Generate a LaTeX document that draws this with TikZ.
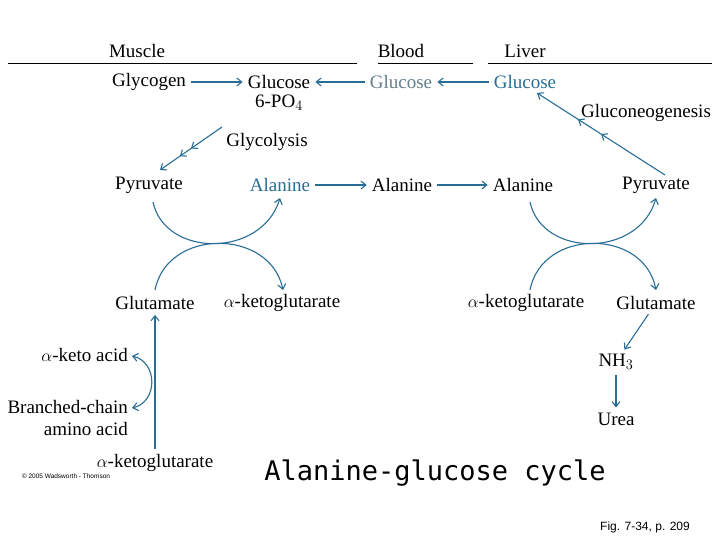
\documentclass[tikz,border=0pt]{standalone}
\usepackage{fontspec}
\setmainfont{Liberation Serif}
\newfontfamily\lsans{Liberation Sans}
\newfontfamily\tfont{DejaVu Sans Mono}
\usetikzlibrary{arrows.meta,decorations.markings}
\definecolor{bl}{RGB}{40,110,150}
\definecolor{gr}{RGB}{100,125,140}
\tikzset{lbl/.style={font=\fontsize{19}{22}\selectfont,inner sep=1pt},
 ar/.style={draw=bl,line width=1.1pt,-{Straight Barb[length=5pt,width=8pt]},shorten >=4pt,shorten <=4pt},
 midar/.style={postaction={decorate},decoration={markings,
   mark=at position 0.5 with {\arrow[bl]{Straight Barb[length=5pt,width=8pt]}},
   mark=at position 0.68 with {\arrow[bl]{Straight Barb[length=5pt,width=8pt]}}}}}
\begin{document}
\begin{tikzpicture}[x=1pt,y=-1pt]
\useasboundingbox[fill=white] (0,0) rectangle (720,540);
\node[lbl] (hm) at (137,51) {Muscle};
\node[lbl] (hb) at (401,51) {Blood};
\node[lbl] (hl) at (525,51) {Liver};
\draw[line width=0.8pt] (8,63) -- (357,63) (378,63) -- (473,63) (488,63) -- (712,63);
\node[lbl] (glycogen) at (149,82) {Glycogen};
\node[lbl] (g6p) at (279,82) {Glucose};
\node[lbl] (g6pb) at (279,103) {6-PO$_4$};
\node[lbl,text=gr] (gb) at (401,82) {Glucose};
\node[lbl,text=bl] (gl) at (525,82) {Glucose};
\draw[ar] (glycogen) -- (g6p);
\draw[ar] (gb) -- (g6p);
\draw[ar] (gl) -- (gb);
\node[lbl] (glyc) at (267,142) {Glycolysis};
\node[lbl] (glng) at (646,113) {Gluconeogenesis};
\node[lbl] (pyr1) at (149,185) {Pyruvate};
\node[lbl,text=bl] (ala1) at (280,185) {Alanine};
\node[lbl] (ala2) at (402,185) {Alanine};
\node[lbl] (ala3) at (523,185) {Alanine};
\node[lbl] (pyr2) at (656,185) {Pyruvate};
\coordinate (gs) at (222,127);
\coordinate (ge) at (160,170);
\draw[ar,shorten <=0pt,shorten >=0pt,midar] (gs) -- (ge);
\coordinate (ps) at (665,175);
\coordinate (pe) at (537,93);
\draw[ar,shorten <=0pt,shorten >=0pt,midar] (ps) -- (pe);
\draw[ar] (ala1) -- (ala2);
\draw[ar] (ala2) -- (ala3);
\node[lbl] (glu1) at (155,303) {Glutamate};
\node[lbl] (akg1) at (282,303) {$\alpha$-ketoglutarate};
\node[lbl] (akg2) at (526,303) {$\alpha$-ketoglutarate};
\node[lbl] (glu2) at (656,303) {Glutamate};
\tikzset{arc/.style={ar,shorten <=0pt,shorten >=0pt}}
\draw[arc] (153,202) .. controls (165,258) and (262,258) .. (280,198);
\draw[arc] (155,290) .. controls (167,228) and (270,228) .. (283,290);
\draw[arc] (530,202) .. controls (542,258) and (639,258) .. (656,198);
\draw[arc] (530,290) .. controls (542,228) and (644,228) .. (656,290);
\node[lbl] (nh3) at (616,362) {NH$_3$};
\node[lbl] (urea) at (616,419) {Urea};
\draw[ar] (glu2) -- (nh3);
\draw[ar] (nh3) -- (urea);
\node[lbl] (akg3) at (155,463) {$\alpha$-ketoglutarate};
\node[lbl,anchor=east] (aka) at (129,355) {$\alpha$-keto acid};
\node[lbl,anchor=east,align=right] (bca) at (129,418) {Branched-chain\\amino acid};
\draw[ar] (akg3) -- (glu1);
\draw[draw=bl,line width=1.1pt,{Straight Barb[length=5pt,width=8pt]}-{Straight Barb[length=5pt,width=8pt]}] (132,356) .. controls (158,362) and (158,402) .. (132,408);
\node[font=\lsans\fontsize{6.5}{7}\selectfont] (copy) at (66,476) {\copyright{} 2005 Wadsworth - Thomson};
\node[font=\tfont\fontsize{27}{30}\selectfont] (title) at (435,473) {Alanine-glucose cycle};
\node[font=\lsans\fontsize{12}{14}\selectfont] (fig) at (645,527) {Fig. 7-34, p. 209};
\end{tikzpicture}
\end{document}
